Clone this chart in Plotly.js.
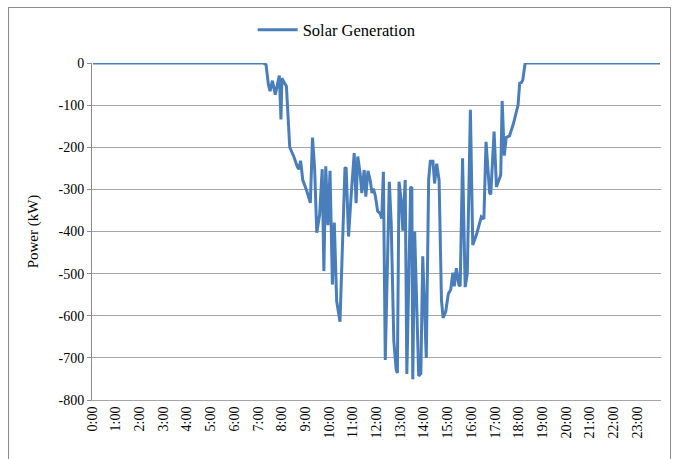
<!DOCTYPE html>
<html>
<head>
<meta charset="utf-8">
<script src="https://cdn.plot.ly/plotly-3.0.1.min.js"></script>
<style>
  html, body { margin: 0; padding: 0; background: #ffffff; }
  #wrap { position: relative; width: 679px; height: 459px; overflow: hidden; }
  #frame { position: absolute; left: 8px; top: 7px; width: 663px; height: 470px; border: 1px solid #8c8c8c; box-sizing: border-box; pointer-events: none; }
  #chart { position: absolute; left: 0; top: 0; width: 679px; height: 459px; }
  #chart text { font-family: 'Liberation Serif' !important; }
</style>
</head>
<body>
<div id="wrap">
  <div id="chart"></div>
  <div id="frame"></div>
</div>
<script>
// Time of day (hours) and solar generation (kW)
const hours = [0.04, 7.23, 7.34, 7.44, 7.51, 7.61, 7.73, 7.81, 7.90, 7.97, 8.01, 8.11, 8.20,
  8.34, 8.51, 8.66, 8.72, 8.80, 8.89, 9.06, 9.21, 9.30, 9.39, 9.48, 9.60, 9.71, 9.78, 9.86,
  9.95, 10.04, 10.14, 10.22, 10.32, 10.46, 10.67, 10.72, 10.82, 10.93, 11.06, 11.14, 11.21,
  11.31, 11.38, 11.48, 11.55, 11.64, 11.74, 11.81, 11.87, 11.95, 12.05, 12.15, 12.22, 12.29,
  12.37, 12.54, 12.62, 12.73, 12.83, 12.88, 12.95, 13.04, 13.11, 13.21, 13.28, 13.44, 13.49,
  13.53, 13.61, 13.78, 13.87, 13.95, 14.10, 14.20, 14.27, 14.38, 14.45, 14.54, 14.64, 14.74,
  14.81, 14.92, 15.03, 15.13, 15.22, 15.28, 15.37, 15.47, 15.53, 15.63, 15.74, 15.83, 15.96,
  16.06, 16.23, 16.42, 16.53, 16.62, 16.77, 16.82, 16.96, 17.06, 17.20, 17.24, 17.30, 17.39,
  17.47, 17.61, 17.78, 17.97, 18.04, 18.12, 18.17, 18.27, 23.96];
const solarGeneration = [0, 0, -4, -51, -67, -42, -75, -57, -30, -134, -36, -47, -55,
  -200, -222, -246, -252, -232, -278, -304, -332, -177, -250, -403, -361, -252, -494, -245,
  -385, -256, -526, -379, -565, -614, -250, -248, -412, -315, -214, -333, -222,
  -262, -309, -254, -317, -256, -280, -309, -298, -315, -352, -357, -369, -258,
  -705, -282, -380, -660, -728, -736, -282, -325, -398, -278, -738, -294, -297,
  -751, -400, -743, -737, -459, -700, -276, -233, -233, -286, -239, -278, -563,
  -605, -590, -548, -538, -498, -530, -487, -526, -530, -226, -532, -500, -111,
  -432, -405, -365, -370, -187, -308, -312, -163, -294, -272, -266, -90, -220,
  -177, -173, -143, -100, -48, -46, -40, 0, 0];

const xTickVals = [0,1,2,3,4,5,6,7,8,9,10,11,12,13,14,15,16,17,18,19,20,21,22,23];
const xTickLabels = ['0:00','1:00','2:00','3:00','4:00','5:00','6:00','7:00','8:00','9:00',
  '10:00','11:00','12:00','13:00','14:00','15:00','16:00','17:00','18:00','19:00','20:00',
  '21:00','22:00','23:00'];
const yTickVals = [-800, -700, -600, -500, -400, -300, -200, -100, 0];
const yTickLabels = ['-800', '-700', '-600', '-500', '-400', '-300', '-200', '-100', '0'];

const serif = 'Liberation Serif';

const traces = [{
  type: 'scatter',
  mode: 'lines',
  name: 'Solar Generation',
  x: hours,
  y: solarGeneration,
  line: { color: '#4a7ebb', width: 3 },
  xaxis: 'x',
  yaxis: 'y',
  hoverinfo: 'skip'
}];

const layout = {
  width: 679,
  height: 459,
  margin: { l: 92, r: 18, t: 63, b: 59 },
  paper_bgcolor: 'rgba(0,0,0,0)',
  plot_bgcolor: '#ffffff',
  font: { family: serif, size: 14, color: '#000000' },
  showlegend: true,
  legend: {
    orientation: 'h',
    x: 0.43, xanchor: 'center',
    y: 1.098, yanchor: 'middle',
    font: { family: serif, size: 16.5, color: '#000000' },
    itemwidth: 40,
    bgcolor: 'rgba(0,0,0,0)'
  },
  xaxis: {
    range: [0, 24],
    tickmode: 'array',
    tickvals: xTickVals,
    ticktext: xTickLabels,
    tickangle: -90,
    ticks: '',
    showgrid: false,
    zeroline: false,
    showline: true,
    linecolor: '#a6a6a6',
    linewidth: 1,
    tickfont: { family: serif, size: 14, color: '#000000' },
    fixedrange: true
  },
  xaxis2: {
    overlaying: 'x',
    anchor: 'y',
    side: 'top',
    range: [0, 24],
    tickmode: 'array',
    tickvals: xTickVals,
    showticklabels: false,
    ticks: 'inside',
    ticklen: 5,
    tickcolor: '#8c8c8c',
    showgrid: false,
    zeroline: false,
    showline: true,
    linecolor: '#8c8c8c',
    linewidth: 1
  },
  yaxis: {
    range: [-800, 0],
    tickmode: 'array',
    tickvals: yTickVals,
    ticktext: yTickLabels,
    ticks: 'outside',
    ticklen: 4,
    tickcolor: '#8c8c8c',
    showgrid: true,
    gridcolor: '#a6a6a6',
    gridwidth: 1,
    zeroline: false,
    showline: true,
    linecolor: '#8c8c8c',
    linewidth: 1,
    tickfont: { family: serif, size: 14, color: '#000000' },
    title: { text: 'Power (kW)', font: { family: serif, size: 15, color: '#000000' }, standoff: 16 },
    fixedrange: true
  }
};

Plotly.newPlot('chart', traces, layout, { staticPlot: true, displayModeBar: false });
</script>
</body>
</html>
